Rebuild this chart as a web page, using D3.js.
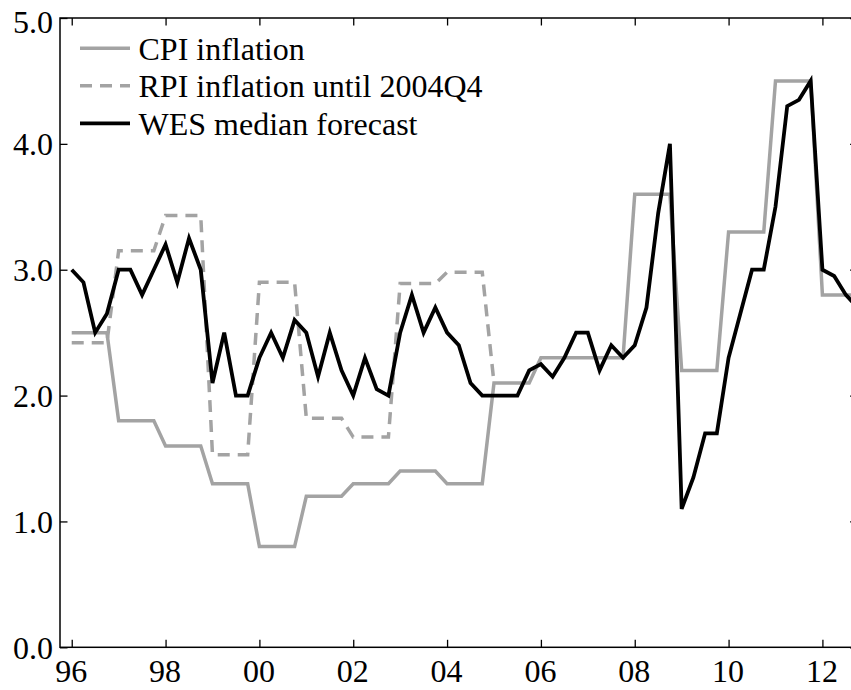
<!DOCTYPE html>
<html>
<head>
<meta charset="utf-8">
<script src="https://cdn.jsdelivr.net/npm/d3@7"></script>
<style>
  html, body { margin: 0; padding: 0; background: #fff; }
  svg { display: block; font-family: "Liberation Serif", "Times New Roman", serif; }
</style>
</head>
<body>
<svg id="chart" width="851" height="690"></svg>
<script>
// Quarterly observations, 1996Q1 .. 2012Q4
const quarters = [
  "1996Q1","1996Q2","1996Q3","1996Q4","1997Q1","1997Q2","1997Q3","1997Q4",
  "1998Q1","1998Q2","1998Q3","1998Q4","1999Q1","1999Q2","1999Q3","1999Q4",
  "2000Q1","2000Q2","2000Q3","2000Q4","2001Q1","2001Q2","2001Q3","2001Q4",
  "2002Q1","2002Q2","2002Q3","2002Q4","2003Q1","2003Q2","2003Q3","2003Q4",
  "2004Q1","2004Q2","2004Q3","2004Q4","2005Q1","2005Q2","2005Q3","2005Q4",
  "2006Q1","2006Q2","2006Q3","2006Q4","2007Q1","2007Q2","2007Q3","2007Q4",
  "2008Q1","2008Q2","2008Q3","2008Q4","2009Q1","2009Q2","2009Q3","2009Q4",
  "2010Q1","2010Q2","2010Q3","2010Q4","2011Q1","2011Q2","2011Q3","2011Q4",
  "2012Q1","2012Q2","2012Q3","2012Q4"
];

// CPI inflation (held through each year)
const cpiInflation = [
  2.5, 2.5, 2.5, 2.5,   1.8, 1.8, 1.8, 1.8,   1.6, 1.6, 1.6, 1.6,   1.3, 1.3, 1.3, 1.3,
  0.8, 0.8, 0.8, 0.8,   1.2, 1.2, 1.2, 1.2,   1.3, 1.3, 1.3, 1.3,   1.4, 1.4, 1.4, 1.4,
  1.3, 1.3, 1.3, 1.3,   2.1, 2.1, 2.1, 2.1,   2.3, 2.3, 2.3, 2.3,   2.3, 2.3, 2.3, 2.3,
  3.6, 3.6, 3.6, 3.6,   2.2, 2.2, 2.2, 2.2,   3.3, 3.3, 3.3, 3.3,   4.5, 4.5, 4.5, 4.5,
  2.8, 2.8, 2.8, 2.8
];

// RPI inflation until 2004Q4, joined to CPI at 2005Q1
const rpiInflation = [
  2.42, 2.42, 2.42, 2.42,   3.15, 3.15, 3.15, 3.15,   3.43, 3.43, 3.43, 3.43,
  1.53, 1.53, 1.53, 1.53,   2.90, 2.90, 2.90, 2.90,   1.82, 1.82, 1.82, 1.82,
  1.67, 1.67, 1.67, 1.67,   2.89, 2.89, 2.89, 2.89,   2.98, 2.98, 2.98, 2.98,
  2.10
];

// WES median forecast
const wesMedian = [
  3.0, 2.9, 2.5, 2.65,   3.0, 3.0, 2.8, 3.0,    3.2, 2.9, 3.25, 3.0,   2.1, 2.5, 2.0, 2.0,
  2.3, 2.5, 2.3, 2.6,    2.5, 2.15, 2.5, 2.2,   2.0, 2.3, 2.05, 2.0,   2.5, 2.8, 2.5, 2.7,
  2.5, 2.4, 2.1, 2.0,    2.0, 2.0, 2.0, 2.2,    2.25, 2.15, 2.3, 2.5,  2.5, 2.2, 2.4, 2.3,
  2.4, 2.7, 3.45, 4.0,   1.1, 1.35, 1.7, 1.7,   2.3, 2.65, 3.0, 3.0,   3.5, 4.3, 4.35, 4.5,
  3.0, 2.95, 2.8, 2.7
];

const xTickYears = [1996, 1998, 2000, 2002, 2004, 2006, 2008, 2010, 2012];
const xTickLabels = ["96", "98", "00", "02", "04", "06", "08", "10", "12"];
const yTicks = [0, 1, 2, 3, 4, 5];

const seriesNames = ["CPI inflation", "RPI inflation until 2004Q4", "WES median forecast"];

// ---- layout ----
const svg = d3.select("#chart");
const plotLeft = 60, plotTop = 18, plotRight = 857.6, plotBottom = 647.3;
const grey = "#a3a3a3";
const fontSize = 32;

const toYear = q => +q.slice(0, 4) + (+q.slice(5) - 1) / 4;

const x = d3.scaleLinear().domain([1995.75, 2012.75]).range([plotLeft, plotRight]);
const y = d3.scaleLinear().domain([0, 5]).range([plotBottom, plotTop]);

svg.append("defs").append("clipPath").attr("id", "plot-clip")
  .append("rect").attr("x", plotLeft).attr("y", plotTop)
  .attr("width", plotRight - plotLeft).attr("height", plotBottom - plotTop);

// ---- axes: ticks point inward on all four sides ----
const tickLen = 7.5;
const axisBottom = d3.axisBottom(x).tickValues(xTickYears)
  .tickSize(-tickLen).tickFormat((d, i) => xTickLabels[i]);
const axisTop = d3.axisTop(x).tickValues(xTickYears).tickSize(-tickLen).tickFormat("");
const axisLeft = d3.axisLeft(y).tickValues(yTicks).tickSize(-tickLen).tickFormat(d3.format(".1f"));
const axisRight = d3.axisRight(y).tickValues(yTicks).tickSize(-tickLen).tickFormat("");

function styleAxis(g) {
  g.select(".domain").remove();
  g.selectAll(".tick line").attr("stroke", "#000").attr("stroke-width", 1.3);
  g.selectAll("text").attr("fill", "#000").style("font-size", fontSize + "px")
    .style("font-family", "'Liberation Serif', 'Times New Roman', serif");
}

const gB = svg.append("g").attr("transform", `translate(0,${plotBottom})`).call(axisBottom).call(styleAxis);
gB.selectAll("text").attr("y", 0).attr("dy", null).attr("transform", "translate(-1,34.5)");

svg.append("g").attr("transform", `translate(0,${plotTop})`).call(axisTop).call(styleAxis);

const gL = svg.append("g").attr("transform", `translate(${plotLeft},0)`).call(axisLeft).call(styleAxis);
gL.selectAll("text").attr("x", -7).attr("dy", "0.34em");
gL.selectAll(".tick").filter(d => d === 5).select("text").attr("dy", "0.46em");

svg.append("g").attr("transform", `translate(${plotRight},0)`).call(axisRight).call(styleAxis);

// frame
svg.append("rect")
  .attr("x", plotLeft).attr("y", plotTop)
  .attr("width", plotRight - plotLeft).attr("height", plotBottom - plotTop)
  .attr("fill", "none").attr("stroke", "#000").attr("stroke-width", 1.5);

// ---- series ----
const line = d3.line()
  .x(d => x(d.t))
  .y(d => y(d.v));

const toPoints = vals => vals.map((v, i) => ({ t: toYear(quarters[i]), v }));

const plot = svg.append("g").attr("clip-path", "url(#plot-clip)");

plot.append("path").datum(toPoints(cpiInflation))
  .attr("d", line).attr("fill", "none")
  .attr("stroke", grey).attr("stroke-width", 3.5).attr("stroke-linejoin", "miter");

plot.append("path").datum(toPoints(rpiInflation))
  .attr("d", line).attr("fill", "none")
  .attr("stroke", grey).attr("stroke-width", 3.5)
  .attr("stroke-dasharray", "12,8");

plot.append("path").datum(toPoints(wesMedian))
  .attr("d", line).attr("fill", "none")
  .attr("stroke", "#000").attr("stroke-width", 3.8).attr("stroke-linejoin", "miter");

// ---- legend ----
const legendStyles = [
  { stroke: grey, dash: null, width: 3.5 },
  { stroke: grey, dash: "12,8", width: 3.5 },
  { stroke: "#000", dash: null, width: 3.8 }
];
const legend = svg.append("g");
const legendRowY = [48.3, 85.8, 123.3];
seriesNames.forEach((name, i) => {
  const ly = legendRowY[i];
  legend.append("line")
    .attr("x1", 80).attr("x2", 130).attr("y1", ly).attr("y2", ly)
    .attr("stroke", legendStyles[i].stroke)
    .attr("stroke-width", legendStyles[i].width)
    .attr("stroke-dasharray", legendStyles[i].dash);
  legend.append("text")
    .attr("x", 138.5).attr("y", ly + 11.5)
    .style("font-size", fontSize + "px")
    .attr("fill", "#000")
    .text(name);
});
</script>
</body>
</html>
